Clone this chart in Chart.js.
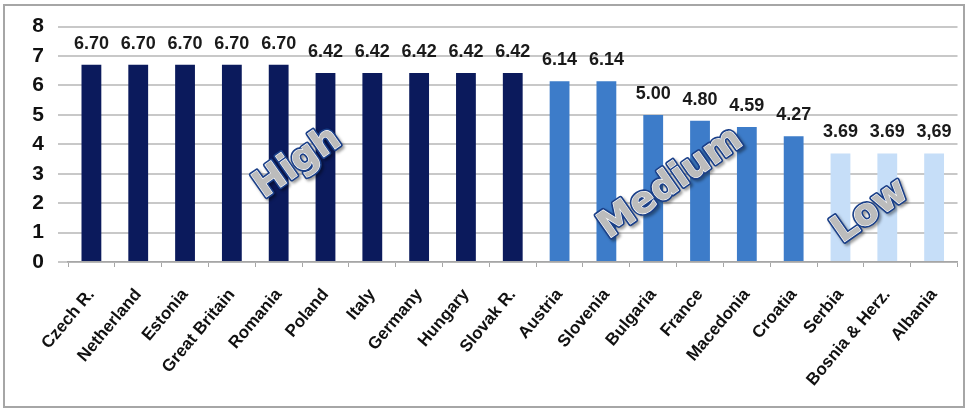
<!DOCTYPE html>
<html>
<head>
<meta charset="utf-8">
<script src="https://cdn.jsdelivr.net/npm/chart.js@4"></script>
<style>
  html, body { margin: 0; padding: 0; background: #fff; }
  #wrap { width: 968px; height: 410px; position: relative; }
</style>
</head>
<body>
<div id="wrap"><canvas id="c" width="968" height="410"></canvas></div>
<script>
// ---- data ----
const countries = ["Czech R.", "Netherland", "Estonia", "Great Britain", "Romania", "Poland", "Italy", "Germany", "Hungary", "Slovak R.", "Austria", "Slovenia", "Bulgaria", "France", "Macedonia", "Croatia", "Serbia", "Bosnia & Herz.", "Albania"];
const scores = [6.70, 6.70, 6.70, 6.70, 6.70, 6.42, 6.42, 6.42, 6.42, 6.42, 6.14, 6.14, 5.00, 4.80, 4.59, 4.27, 3.69, 3.69, 3.69];
const valueLabels = ["6.70", "6.70", "6.70", "6.70", "6.70", "6.42", "6.42", "6.42", "6.42", "6.42", "6.14", "6.14", "5.00", "4.80", "4.59", "4.27", "3.69", "3.69", "3,69"];
const groups = ["High", "High", "High", "High", "High", "High", "High", "High", "High", "High", "Medium", "Medium", "Medium", "Medium", "Medium", "Medium", "Low", "Low", "Low"];
const yTicks = [0, 1, 2, 3, 4, 5, 6, 7, 8];

// ---- styles ----
const groupColors = { High: "#0b1a5c", Medium: "#3d7cc9", Low: "#c6def8" };
// group captions anchored in data space (category index, value)
const captions = [
  { text: "High",   idx: 4.41,  val: 3.36 },
  { text: "Medium", idx: 12.38, val: 2.66 },
  { text: "Low",    idx: 16.64, val: 1.71 }
];

const frame = {
  id: "frame",
  beforeDraw(chart) {
    const c = chart.ctx;
    c.save();
    c.fillStyle = "#fff";
    c.fillRect(0, 0, chart.width, chart.height);
    c.strokeStyle = "#a6a6a6";
    c.lineWidth = 2;
    c.strokeRect(4, 5, chart.width - 8, chart.height - 8);
    c.restore();
  }
};

const valueLabelPlugin = {
  id: "valueLabels",
  afterDatasetsDraw(chart) {
    const c = chart.ctx;
    const meta = chart.getDatasetMeta(0);
    c.save();
    c.font = "bold 18px 'Liberation Sans', Arial, sans-serif";
    c.fillStyle = "#1a1a1a";
    c.textAlign = "center";
    c.textBaseline = "middle";
    meta.data.forEach((bar, i) => {
      c.fillText(valueLabels[i], bar.x, bar.y - 21);
    });
    c.restore();
  }
};

const captionPlugin = {
  id: "captions",
  afterDatasetsDraw(chart) {
    const c = chart.ctx;
    const xs = chart.scales.x, ys = chart.scales.y;
    c.save();
    c.font = "bold 37px 'DejaVu Sans', sans-serif";
    c.textAlign = "center";
    c.textBaseline = "middle";
    c.lineJoin = "round";
    captions.forEach(cap => {
      const x = xs.getPixelForValue(cap.idx);
      const y = ys.getPixelForValue(cap.val);
      c.save();
      c.translate(x, y);
      c.rotate(-35 * Math.PI / 180);
      c.shadowColor = "rgba(0,0,0,0.4)";
      c.shadowOffsetX = 2;
      c.shadowOffsetY = 2;
      c.shadowBlur = 3;
      c.strokeStyle = "#1a3f88";
      c.lineWidth = 4.5;
      c.strokeText(cap.text, 0, 0);
      c.shadowColor = "transparent";
      c.strokeStyle = "#ffffff";
      c.lineWidth = 1.2;
      c.strokeText(cap.text, 0, 0);
      c.fillStyle = "#bcbcbc";
      c.fillText(cap.text, 0, 0);
      c.restore();
    });
    c.restore();
  }
};

new Chart(document.getElementById("c"), {
  type: "bar",
  data: {
    labels: countries,
    datasets: [{
      data: scores,
      backgroundColor: groups.map(g => groupColors[g]),
      borderWidth: 0,
      barPercentage: 0.46,
      categoryPercentage: 0.92
    }]
  },
  options: {
    responsive: false,
    animation: false,
    devicePixelRatio: 1,
    layout: { padding: { top: 24, right: 10, bottom: 0, left: 0 } },
    plugins: { legend: { display: false }, tooltip: { enabled: false } },
    scales: {
      x: {
        grid: { display: true, drawOnChartArea: false, drawTicks: true, tickLength: 5, color: "#a6a6a6", offset: true },
        border: { color: "#a6a6a6", width: 1.5 },
        ticks: {
          autoSkip: false,
          minRotation: 50,
          maxRotation: 50,
          padding: 18,
          color: "#111",
          font: { family: "'Liberation Sans', Arial, sans-serif", size: 17, weight: "bold" }
        },
        afterFit(scale) { scale.height = 148; }
      },
      y: {
        min: 0,
        max: 8,
        afterBuildTicks(scale) { scale.ticks = yTicks.map(v => ({ value: v })); },
        grid: { color: "#c8c8c8", lineWidth: 2, tickLength: 10 },
        border: { display: false },
        ticks: {
          padding: 14,
          color: "#111",
          font: { family: "'Liberation Sans', Arial, sans-serif", size: 21, weight: "bold" }
        },
        afterFit(scale) { scale.width = 68; }
      }
    }
  },
  plugins: [frame, valueLabelPlugin, captionPlugin]
});
</script>
</body>
</html>
